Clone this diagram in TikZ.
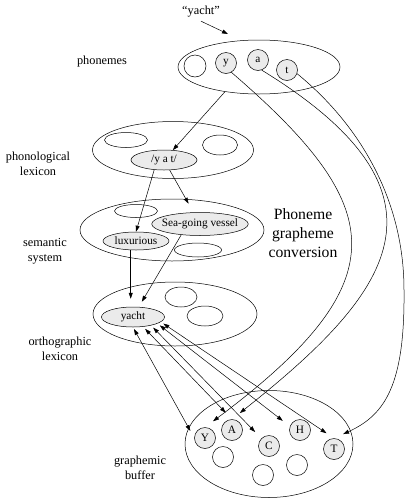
\documentclass[tikz,border=0pt]{standalone}
\usepackage{fontspec}
\setmainfont{Liberation Serif}
\usetikzlibrary{shapes.geometric,arrows.meta}
\begin{document}
\begin{tikzpicture}[x=1pt,y=-1pt,line width=0.5pt,
  lay/.style={draw, ellipse, inner sep=0pt},
  blank/.style={draw, ellipse, inner sep=0pt},
  word/.style={draw, ellipse, fill=black!8, inner sep=0pt, font=\fontsize{11.3}{13}\selectfont},
  letter/.style={draw, circle, fill=black!8, minimum size=21pt, inner sep=0pt, font=\fontsize{11.3}{13}\selectfont},
  emptyc/.style={draw, circle, minimum size=21pt, inner sep=0pt},
  lbl/.style={align=center, font=\fontsize{12.3}{15}\selectfont},
  arr/.style={-{Triangle[length=6pt,width=4pt]}},
  dbl/.style={{Triangle[length=6pt,width=4pt]}-{Triangle[length=6pt,width=4pt]}}]
\useasboundingbox (0,0) rectangle (408,504);

% phonemes
\node[lay, minimum width=162pt, minimum height=54pt] (phon) at (259,67) {};
\node[emptyc, minimum size=22pt] (p0) at (195,66) {};
\node[letter] (py) at (226,63) {y};
\node[letter] (pa) at (258,60) {a};
\node[letter] (pt) at (287,70) {t};

% phonological lexicon
\node[lay, minimum width=161pt, minimum height=57pt] (plex) at (173,150) {};
\node[blank, minimum width=43pt, minimum height=15pt] (pl1) at (126,140) {};
\node[blank, minimum width=35pt, minimum height=20pt] (pl2) at (220,145) {};
\node[word, minimum width=66pt, minimum height=20pt] (yat) at (164,160) {/y a t/};

% semantic system
\node[lay, minimum width=184pt, minimum height=62pt] (sem) at (172,230) {};
\node[blank, minimum width=43pt, minimum height=13pt] (s1) at (136,211) {};
\node[word, inner xsep=-4pt, minimum width=96pt, minimum height=23pt] (sea) at (200,224) {Sea-going vessel};
\node[word, minimum width=66pt, minimum height=18pt] (lux) at (136,241) {luxurious};
\node[blank, minimum width=47pt, minimum height=14pt] (s2) at (198,250) {};

% orthographic lexicon
\node[lay, minimum width=164pt, minimum height=64pt] (orth) at (175,314) {};
\node[word, minimum width=63pt, minimum height=20pt] (yacht) at (133,317) {yacht};
\node[blank, minimum width=32pt, minimum height=20pt] (o1) at (181,297) {};
\node[blank, minimum width=36pt, minimum height=20pt] (o2) at (205,316) {};

% graphemic buffer
\node[lay, minimum width=168pt, minimum height=107pt] (gb) at (269,444) {};
\node[letter] (Y) at (205,438) {Y};
\node[letter] (A) at (232,430) {A};
\node[letter] (C) at (269,446) {C};
\node[letter] (H) at (300,430) {H};
\node[letter] (T) at (334,449) {T};
\node[emptyc] (g1) at (223,457) {};
\node[emptyc] (g2) at (263,475) {};
\node[emptyc] (g3) at (297,465) {};

% labels
\node[lbl] (quote) at (201,12) {“yacht”};
\node[lbl] (lphon) at (102,62) {phonemes};
\node[lbl] (lplex) at (38,164) {phonological\\lexicon};
\node[lbl] (lsem) at (45,251) {semantic\\system};
\node[lbl] (lorth) at (60,349) {orthographic\\lexicon};
\node[lbl] (lgb) at (140,468) {graphemic\\buffer};
\node[align=center, font=\fontsize{15.7}{19}\selectfont] (pgc) at (303,233) {Phoneme\\grapheme\\conversion};

% connectors
\coordinate (qe) at (228,34);
\draw[arr] (quote.south) -- (qe);
\draw[arr] (phon.216) -- (yat);
\draw[arr] (yat.225) -- (lux.north);
\draw[arr, shorten >=10pt] (yat) -- (sea);
\draw[arr, shorten >=8pt] (lux.240) -- (lux.240 |- yacht.north);
\draw[arr, shorten >=6pt] (sea.210) -- (yacht.60);

\draw[dbl, shorten <=2pt, shorten >=8pt] (yacht.270) -- (Y.west);
\draw[dbl, shorten <=3pt, shorten >=9pt] (yacht.316) -- (A.north);
\draw[dbl, shorten <=3pt, shorten >=9pt] (yacht.335) -- (C.north west);
\draw[dbl, shorten <=3pt, shorten >=9pt] (yacht.345) -- (H.160);
\draw[dbl, shorten <=3pt, shorten >=9pt] (yacht.350) -- (T.north);

\draw[arr, shorten >=10pt] (py.300) .. controls (386.9,206.3) and (401.2,280.4) .. (Y.north);
\draw[arr, shorten >=10pt] (pa.290) .. controls (467.1,196) and (389.6,294.2) .. (A.north);
\draw[arr, shorten >=10pt] (pt.340) .. controls (360,125) and (404,200) .. (404,290)
   .. controls (405,385) and (385,415) .. (T.north);
\end{tikzpicture}
\end{document}
